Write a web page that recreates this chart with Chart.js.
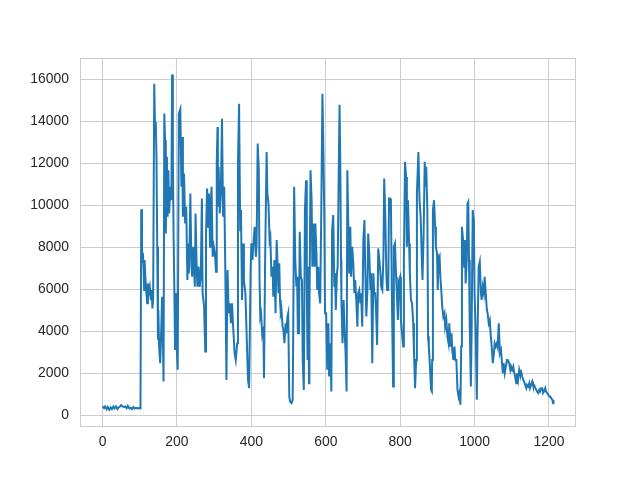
<!DOCTYPE html>
<html>
<head>
<meta charset="utf-8">
<script src="https://cdn.jsdelivr.net/npm/chart.js@4.4.1/dist/chart.umd.min.js"></script>
<style>
  html, body { margin: 0; padding: 0; background: #fff; }
</style>
</head>
<body>
<canvas id="chart" width="640" height="480"></canvas>
<script>
// values (step index, count)
const steps = [
  0, 4, 7, 11, 14, 18, 22, 25, 29, 32, 36, 40, 43, 47, 50, 54, 58, 61, 65, 68, 72, 76, 79, 83, 86, 90, 94, 97, 101,
  102, 104, 106, 109, 112, 113, 115, 118, 120, 122, 124, 127, 130, 132, 134, 136, 139, 141, 143, 145, 147, 149, 150,
  152, 155, 158, 160, 162, 164, 166, 168, 170, 173, 175, 177, 179, 182, 185, 187, 189, 191, 193, 195, 198, 200, 202,
  205, 209, 212, 214, 216, 219, 222, 225, 228, 230, 232, 234, 236, 239, 241, 244, 248, 250, 253, 255,
  258, 261, 264, 267, 269, 273, 276, 278, 281, 284, 286, 289, 291, 293, 296, 299, 302, 305, 307, 309,
  310, 312, 315, 318, 321, 324, 327, 330, 333, 336, 339, 342, 345, 348, 351, 355, 358, 362, 364, 367,
  370, 372, 375, 378, 380, 384, 388, 391, 394, 398, 400, 403, 406, 409, 412, 414, 417, 420,
  422, 424, 426, 429, 432, 434, 437, 441, 443, 446, 449, 451, 454, 457, 459, 462, 465, 468, 470, 473,
  475, 477, 479, 481, 484, 486, 489, 492, 494, 497, 499, 502, 504, 508, 511, 512, 515, 518, 521, 523,
  525, 528, 530, 533, 536, 538, 541, 544, 547, 549, 551, 553, 555, 556, 559, 562, 564, 567, 570, 572,
  575, 577, 580, 582, 585, 588, 591, 593, 596, 598, 601, 604, 607, 609, 612, 615, 617, 620, 623, 625,
  627, 630, 632, 634,
  637, 639, 641, 642, 645, 648, 650, 653, 656, 658, 660, 663, 666, 668, 671, 674, 677, 679, 682, 685,
  687, 690, 693, 695, 698, 701, 704, 706, 709, 712, 714, 717, 720, 722, 725, 728, 730, 733, 736, 738,
  741, 744, 747, 749, 752, 755, 757, 760, 763, 765, 768, 770, 773, 775, 778, 781, 783, 786, 789, 791,
  794, 797, 800, 802, 805, 808, 810, 813, 816, 818, 821, 824, 826, 829, 832, 835, 837, 840, 843, 845, 849,
  852, 855, 858, 860, 863, 866, 868, 870, 873, 875, 877, 880, 883, 885, 886, 888, 891, 894, 896, 899,
  901, 903, 906, 908, 911, 913, 916, 919, 921, 924, 927, 930, 932, 935, 938, 940, 943, 946, 948, 951,
  954, 957, 959, 962, 964, 966, 969, 972, 974, 976, 979, 981, 983, 985, 987, 990, 992, 995, 998, 1000,
  1003, 1006, 1008, 1011, 1014, 1017, 1019, 1022, 1025, 1027, 1030, 1033, 1035, 1038, 1041, 1043, 1046, 1049, 1052, 1054,
  1057, 1060, 1062, 1065,
  1068, 1071, 1073, 1076, 1078, 1081, 1084, 1087, 1089, 1093, 1096, 1098, 1101, 1104, 1106, 1109, 1112, 1114, 1117, 1120,
  1122, 1125, 1128, 1131, 1133, 1136, 1139, 1141, 1144, 1147, 1149, 1152, 1155, 1157, 1160, 1163, 1166, 1168, 1171, 1174,
  1176, 1179, 1182, 1184, 1187, 1190, 1192, 1195, 1198, 1201, 1203, 1206, 1209, 1211, 1212
];
const counts = [
  413, 333, 413, 286, 381, 254, 365, 286, 413, 317, 413, 286, 365, 413, 476, 413, 381, 413, 333, 444, 317, 349, 286, 381, 317, 349, 317, 333, 317,
  330, 9820, 7400, 7550, 5970, 7400, 6600, 5810, 5330, 6280, 5810, 6120, 5490, 5970, 5090, 5490, 15800, 13740, 13980, 12320, 8030, 3590, 5010,
  3270, 2480, 4220, 5650, 3900, 1600, 14380, 13110, 8665, 12320, 9460, 11680, 9620, 10890, 10250, 16250, 12160, 8500, 5970, 3110, 5810, 2950, 2160,
  14380, 14600, 10890, 13270, 9460, 11520, 9140, 9935, 6440, 8190, 6760, 8190, 10570, 7080, 6600, 8030, 6120, 9620, 7080, 6120,
  7080, 6120, 6600, 10330, 5810, 5170, 3030, 8500, 10810, 8980, 10570, 8030, 10090, 10890, 7550, 8030, 7710, 6840, 12000, 13740,
  9935, 11840, 9620, 10570, 14140, 9460, 10890, 6920, 1680, 6920, 4860, 5330, 4380, 5330, 4220, 2950, 2630, 3430, 12000, 14850,
  8820, 9780, 5490, 8190, 6440, 5810, 3430, 1680, 1285, 6920, 8190, 7400, 8350, 8980, 7550, 8030, 12950, 11680,
  6440, 4700, 4860, 3900, 4220, 1760, 7400, 12550, 10570, 10090, 8350, 8500, 6600, 7080, 5650, 7400, 4860, 8350, 7400, 5810,
  7240, 5490, 4860, 5010, 4220, 4070, 3430, 4380, 3900, 4700, 4860, 890, 650, 570, 730, 2630, 10890, 7400, 6120, 6600,
  3900, 3900, 8740, 6600, 6440, 2630, 1200, 9780, 11200, 6120, 2630, 7080, 1520, 4540, 11680, 10250, 7080, 9140, 7080, 9140,
  7710, 5970, 7080, 5810, 5330, 9780, 15330, 13270, 9620, 4860, 4860, 2160, 4380, 1840, 3430, 1130, 8820, 9540, 6120, 6760,
  5010, 6760, 7080, 10250,
  14800, 12160, 7400, 5490, 3430, 5490, 4220, 3110, 1130, 11680, 9620, 6760, 8980, 6600, 8030, 7240, 5810, 6440, 5490, 4220,
  5810, 5970, 5330, 5810, 4220, 8350, 9300, 7080, 4700, 5970, 8665, 7710, 5970, 6760, 2480, 6760, 5810, 5810, 4540, 3350,
  7950, 7400, 6760, 6120, 5970, 7550, 11280, 9460, 6600, 5970, 5970, 10330, 10330, 10250, 5330, 1365, 8030, 8190, 6600, 5810,
  4540, 6440, 6600, 4540, 3900, 3270, 7400, 12080, 11360, 8030, 10250, 8190, 6760, 5490, 5330, 4380, 3110, 1285, 2630, 10570, 12550,
  10250, 9460, 7550, 6440, 8665, 12080, 10890, 11840, 9780, 3745, 3270, 2320, 1205, 1130, 2630, 9780, 10250, 8980, 8030, 7710,
  5970, 7400, 7550, 6600, 5810, 5170, 4700, 4860, 4220, 4540, 3745, 3430, 4380, 3270, 3900, 3110, 2630, 3270, 2630, 2630,
  1205, 890, 1050, 490, 3270, 8980, 8350, 7080, 8350, 6280, 7400, 10090, 10170, 7400, 4220, 1365, 3900, 9780, 9300, 5810,
  3900, 730, 3900, 7080, 7320, 5810, 5490, 6120, 5810, 6600, 5810, 5010, 4860, 4380, 4540, 3900, 3270, 2480, 2950, 3430,
  3270, 3430, 3270, 4380,
  2950, 3110, 2630, 2000, 2480, 2000, 2320, 2630, 2630, 2480, 2160, 2320, 2160, 2320, 2080, 1840, 1520, 2000, 1680, 2160,
  2000, 2080, 1840, 1680, 1600, 1440, 1285, 1440, 1365, 1520, 1285, 1440, 1600, 1440, 1440, 1285, 1205, 1130, 1050, 1205,
  1130, 1285, 1285, 1050, 1130, 1285, 1130, 1050, 970, 890, 890, 810, 730, 570, 730
];
const xTicks = [0, 200, 400, 600, 800, 1000, 1200];
const yTicks = [0, 2000, 4000, 6000, 8000, 10000, 12000, 14000, 16000];

const points = steps.map((s, i) => ({ x: s, y: counts[i] }));

// light grey box round the plot area, like the seaborn whitegrid spines
const frame = {
  id: 'frame',
  afterDraw: (chart) => {
    const { ctx, chartArea: { left, top, right, bottom } } = chart;
    ctx.save();
    ctx.strokeStyle = '#cccccc';
    ctx.lineWidth = 1;
    ctx.strokeRect(left + 0.5, top + 0.5, right - left - 1, bottom - top - 1);
    ctx.restore();
  }
};

const tickFont = { family: '"Liberation Sans", Arial, sans-serif', size: 13.9 };

new Chart(document.getElementById('chart'), {
  type: 'line',
  data: {
    datasets: [{
      data: points,
      borderColor: '#1f77b4',
      borderWidth: 2,
      pointRadius: 0,
      tension: 0,
      fill: false
    }]
  },
  options: {
    responsive: false,
    animation: false,
    layout: { padding: { left: 0, right: 64, top: 58, bottom: 0 } },
    plugins: {
      legend: { display: false },
      tooltip: { enabled: false }
    },
    scales: {
      x: {
        type: 'linear',
        min: -60.6,
        max: 1272.6,
        afterBuildTicks: (scale) => { scale.ticks = xTicks.map(v => ({ value: v })); },
        afterFit: (scale) => { scale.height = 53; },
        grid: { color: '#cccccc', lineWidth: 1, drawTicks: false },
        border: { display: false },
        ticks: {
          color: '#262626',
          font: tickFont,
          padding: 7,
          maxRotation: 0,
          autoSkip: false,
          callback: (v) => String(v)
        }
      },
      y: {
        min: -567,
        max: 17033,
        afterBuildTicks: (scale) => { scale.ticks = yTicks.map(v => ({ value: v })); },
        afterFit: (scale) => { scale.width = 80; },
        grid: { color: '#cccccc', lineWidth: 1, drawTicks: false },
        border: { display: false },
        ticks: {
          color: '#262626',
          font: tickFont,
          padding: 11,
          autoSkip: false,
          callback: (v) => String(v)
        }
      }
    }
  },
  plugins: [frame]
});
</script>
</body>
</html>
